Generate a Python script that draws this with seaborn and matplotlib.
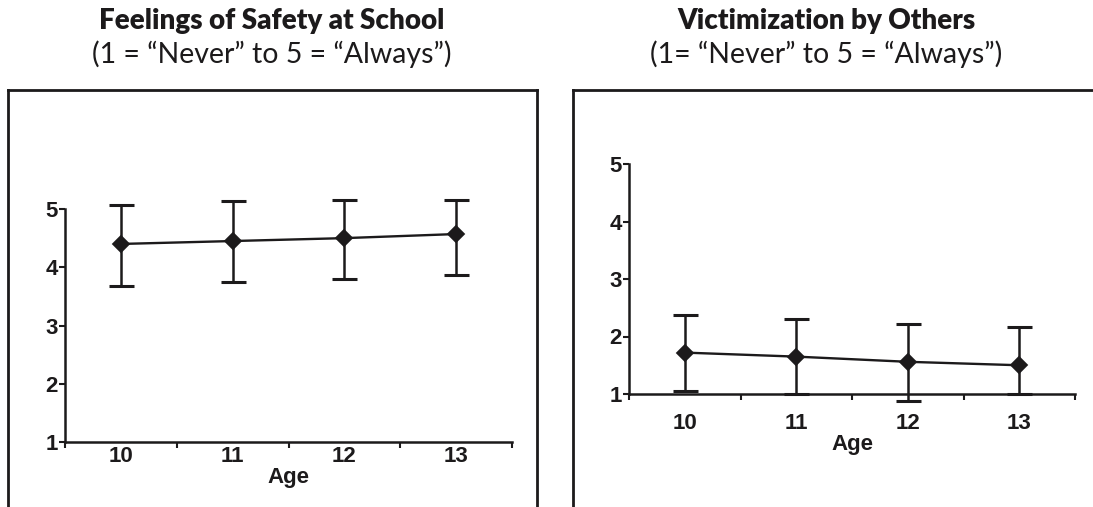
import numpy as np
import matplotlib
matplotlib.use("Agg")
import matplotlib.pyplot as plt
from matplotlib.lines import Line2D
from matplotlib.ticker import FixedLocator
import seaborn as sns

# Ages on the x axis
ages = ["10", "11", "12", "13"]

# Feelings of safety at school: means and error-bar limits
safety_mean = [4.40, 4.45, 4.50, 4.57]
safety_low = [3.67, 3.74, 3.79, 3.86]
safety_high = [5.07, 5.14, 5.16, 5.16]

# Victimization by others: means and error-bar limits
victim_mean = [1.72, 1.65, 1.56, 1.50]
victim_low = [1.05, 1.00, 0.88, 1.00]
victim_high = [2.37, 2.30, 2.22, 2.16]

titles = ["Feelings of Safety at School", "Victimization by Others"]
subtitles = ["(1 = \u201cNever\u201d to 5 = \u201cAlways\u201d)",
             "(1= \u201cNever\u201d to 5 = \u201cAlways\u201d)"]
y_ticks = [1, 2, 3, 4, 5]

INK = "#1c1a1b"
TICK_FS = 16

sns.set_theme(style="white")
plt.rcParams["font.family"] = ["Liberation Sans", "DejaVu Sans"]

W, H = 1093, 507
fig = plt.figure(figsize=(W / 100, H / 100), dpi=100)


def px_rect(x0, x1, y_top, y_bot):
    """Convert pixel extents to a figure-fraction [left, bottom, width, height]."""
    return [x0 / W, 1 - y_bot / H, (x1 - x0) / W, (y_bot - y_top) / H]


def frame(x_left, x_right, y_top, right_edge=True):
    """Open-bottomed panel frame drawn in pixel coordinates."""
    lw = 2.0
    yt = 1 - y_top / H
    xl, xr = x_left / W, x_right / W
    fig.add_artist(Line2D([xl, xl], [yt, -0.02], color=INK, lw=lw,
                          transform=fig.transFigure, solid_capstyle="projecting"))
    fig.add_artist(Line2D([xl, xr], [yt, yt], color=INK, lw=lw,
                          transform=fig.transFigure, solid_capstyle="projecting"))
    if right_edge:
        fig.add_artist(Line2D([xr, xr], [yt, -0.02], color=INK, lw=lw,
                              transform=fig.transFigure, solid_capstyle="projecting"))


def panel(ax, means, lows, highs, xpad):
    sns.pointplot(x=ages, y=means, ax=ax, color=INK, markers="D",
                  markersize=8, linewidth=1.7, errorbar=None)
    pos = np.arange(len(ages))
    m = np.asarray(means)
    err = [m - np.asarray(lows), np.asarray(highs) - m]
    _, caps, bars = ax.errorbar(pos, m, yerr=err, fmt="none", ecolor=INK,
                                elinewidth=1.8, capsize=9, capthick=2.2,
                                zorder=1)
    for art in list(caps) + list(bars):
        art.set_clip_on(False)
    for art in ax.lines + ax.collections:
        art.set_clip_on(False)

    ax.set_xlim(-0.5, len(ages) - 0.5)
    ax.set_ylim(1, 5)
    ax.set_yticks(y_ticks)
    ax.set_yticklabels([str(t) for t in y_ticks], fontsize=TICK_FS,
                       fontweight="bold", color=INK)
    ax.set_xticks(pos)
    ax.set_xticklabels(ages, fontsize=TICK_FS, fontweight="bold", color=INK)
    ax.xaxis.set_minor_locator(FixedLocator(np.arange(-0.5, len(ages), 1.0)))
    ax.tick_params(axis="x", which="major", length=0, pad=xpad)
    ax.tick_params(axis="x", which="minor", length=4, width=1.5, color=INK,
                   direction="out", bottom=True)
    ax.tick_params(axis="y", which="major", length=4, width=1.5, color=INK,
                   direction="out", left=True, pad=1)
    ax.set_xlabel("Age", fontsize=TICK_FS, fontweight="bold", color=INK,
                  labelpad=0)
    ax.set_ylabel("")
    for side in ("top", "right"):
        ax.spines[side].set_visible(False)
    for side in ("left", "bottom"):
        ax.spines[side].set_color(INK)
        ax.spines[side].set_linewidth(1.8)
    ax.patch.set_alpha(0)


# Left panel
frame(8, 537, 90)
ax1 = fig.add_axes(px_rect(65, 512, 209, 442))
panel(ax1, safety_mean, safety_low, safety_high, xpad=3)

# Right panel (frame runs off the right edge)
frame(573, 1100, 90, right_edge=False)
ax2 = fig.add_axes(px_rect(629, 1075, 164, 394))
panel(ax2, victim_mean, victim_low, victim_high, xpad=14)

# Titles above each frame
for cx, t, s in [(272, titles[0], subtitles[0]), (826, titles[1], subtitles[1])]:
    fig.text(cx / W, 1 - 21 / H, t, ha="center", va="center", fontsize=20,
             fontweight="heavy", family=["Lato", "DejaVu Sans"], color=INK)
    fig.text(cx / W, 1 - 54 / H, s, ha="center", va="center", fontsize=20.5,
             family=["Lato", "DejaVu Sans"], color=INK)

fig.savefig("out.png", dpi=100, facecolor="white")
